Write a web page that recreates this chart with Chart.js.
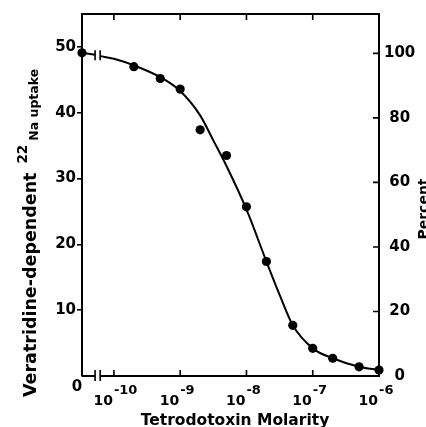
<!DOCTYPE html>
<html>
<head>
<meta charset="utf-8">
<script src="https://cdn.jsdelivr.net/npm/chart.js@4/dist/chart.umd.min.js"></script>
<style>
  html, body { margin: 0; padding: 0; background: #fff; }
  #wrap { width: 426px; height: 427px; position: relative; }
</style>
</head>
<body>
<div id="wrap"><canvas id="chart"></canvas></div>
<script>
// ---- data ----
const molarity = [0, 2e-10, 5e-10, 1e-9, 2e-9, 5e-9, 1e-8, 2e-8, 5e-8, 1e-7, 2e-7, 5e-7, 1e-6];
const uptake = [49.1, 47.0, 45.2, 43.6, 37.4, 33.5, 25.7, 17.4, 7.7, 4.2, 2.7, 1.4, 0.9];

// fitted curve as drawn (null = axis break)
const curveMolarity = [3.3e-11, 5.2e-11, 5.7e-11, 6.2e-11, 1e-10, 2e-10, 5e-10, 1e-9, 2e-9, 3.16e-9, 5e-9, 1e-8, 2e-8, 3.2e-8, 5e-8, 1e-7, 2e-7, 5e-7, 1e-6];
const curveUptake = [49.1, 48.8, null, 48.6, 48.2, 47.2, 45.4, 43.3, 39.6, 35.8, 31.9, 25.3, 17.4, 12.2, 7.7, 4.2, 2.7, 1.4, 0.9];

const leftTicks = [10, 20, 30, 40, 50];
const rightTicks = [0, 20, 40, 60, 80, 100];
const xTickExponents = [-10, -9, -8, -7, -6];
const xMin = 3.3e-11;
const xMax = 1e-6;
const breakMolarity = [5.2e-11, 6.2e-11];
const uptakeMax = 55;
const percentMax = 112.2;

const xTitle = 'Tetrodotoxin Molarity';
const yTitleParts = ['Veratridine-dependent', '22', 'Na uptake'];
const y2Title = 'Percent';

const tickFont = "bold 15px 'DejaVu Sans'";

// ---- frame, breaks, log labels and titles ----
const decorations = {
  id: 'decorations',
  afterDatasetsDraw(chart) {
    const ctx = chart.ctx;
    const x = chart.scales.x, y = chart.scales.y;
    const area = chart.chartArea;
    const b1 = x.getPixelForValue(breakMolarity[0]);
    const b2 = x.getPixelForValue(breakMolarity[1]);
    ctx.save();
    ctx.strokeStyle = '#000';
    ctx.fillStyle = '#000';
    ctx.lineWidth = 2;

    // top border and bottom axis with a break
    ctx.beginPath();
    ctx.moveTo(area.left - 1, area.top);
    ctx.lineTo(area.right + 1, area.top);
    ctx.moveTo(area.left, area.bottom);
    ctx.lineTo(b1, area.bottom);
    ctx.moveTo(b2, area.bottom);
    ctx.lineTo(area.right, area.bottom);
    ctx.stroke();

    // break marks on axis and on curve
    ctx.lineWidth = 1.6;
    const cy = y.getPixelForValue(48.75);
    ctx.beginPath();
    [b1, b2].forEach(bx => {
      ctx.moveTo(bx, area.bottom - 6);
      ctx.lineTo(bx, area.bottom + 5);
      ctx.moveTo(bx, cy - 5);
      ctx.lineTo(bx, cy + 5);
    });
    ctx.stroke();

    // inward ticks: top, bottom, right
    ctx.beginPath();
    xTickExponents.slice(0, -1).forEach(e => {
      const px = x.getPixelForValue(Math.pow(10, e));
      ctx.moveTo(px, area.top);
      ctx.lineTo(px, area.top + 6);
      ctx.moveTo(px, area.bottom);
      ctx.lineTo(px, area.bottom - 6);
    });
    const y2 = chart.scales.y2;
    rightTicks.forEach(v => {
      const py = y2.getPixelForValue(v);
      ctx.moveTo(area.right, py);
      ctx.lineTo(area.right - 6, py);
    });
    ctx.stroke();

    // x tick labels 10^n
    xTickExponents.forEach(e => {
      const px = x.getPixelForValue(Math.pow(10, e));
      ctx.font = "bold 14px 'DejaVu Sans'";
      ctx.textAlign = 'right';
      ctx.textBaseline = 'alphabetic';
      ctx.fillText('10', px - 1, 405);
      ctx.font = "bold 13px 'DejaVu Sans'";
      ctx.textAlign = 'left';
      ctx.fillText('-' + Math.abs(e), px, 394);
    });

    // origin label
    ctx.font = tickFont;
    ctx.textAlign = 'center';
    ctx.fillText('0', area.left - 5, 391);

    // x title
    ctx.font = "bold 15.5px 'DejaVu Sans'";
    ctx.textAlign = 'center';
    ctx.fillText(xTitle, 235, 425);

    // left title, rotated
    ctx.save();
    ctx.translate(36, 397);
    ctx.rotate(-Math.PI / 2);
    ctx.textAlign = 'left';
    ctx.font = "bold 17.5px 'DejaVu Sans'";
    let u = 0;
    ctx.fillText(yTitleParts[0], u, 0);
    u += ctx.measureText(yTitleParts[0]).width + 9;
    ctx.font = "bold 13.5px 'DejaVu Sans'";
    ctx.fillText(yTitleParts[1], u, -9);
    u += ctx.measureText(yTitleParts[1]).width + 4;
    ctx.font = "bold 12.5px 'DejaVu Sans'";
    ctx.fillText(yTitleParts[2], u, 2);
    ctx.restore();

    // right title, rotated and clipped by the edge
    ctx.save();
    ctx.translate(428, 209);
    ctx.rotate(-Math.PI / 2);
    ctx.textAlign = 'center';
    ctx.font = "bold 14px 'DejaVu Sans'";
    ctx.fillText(y2Title, 0, 0);
    ctx.restore();

    ctx.restore();
  }
};

new Chart(document.getElementById('chart'), {
  type: 'line',
  data: {
    datasets: [
      {
        label: 'fit',
        data: curveMolarity.map((m, i) => ({ x: m, y: curveUptake[i] })),
        borderColor: '#000',
        borderWidth: 2,
        pointRadius: 0,
        spanGaps: false,
        cubicInterpolationMode: 'monotone',
        fill: false,
        clip: false
      },
      {
        label: 'uptake',
        data: molarity.map((m, i) => ({ x: m === 0 ? xMin : m, y: uptake[i] })),
        showLine: false,
        pointRadius: 4.6,
        pointBackgroundColor: '#000',
        pointBorderColor: '#000',
        pointBorderWidth: 0,
        clip: false
      }
    ]
  },
  options: {
    responsive: true,
    maintainAspectRatio: false,
    animation: false,
    events: [],
    layout: { padding: { top: 12, left: 0, right: 0, bottom: 0 } },
    plugins: {
      legend: { display: false },
      tooltip: { enabled: false }
    },
    scales: {
      x: {
        type: 'logarithmic',
        min: xMin,
        max: xMax,
        ticks: { display: false },
        grid: { display: false, drawTicks: false },
        border: { display: false },
        afterFit: s => { s.height = 51; }
      },
      y: {
        position: 'left',
        min: 0,
        max: uptakeMax,
        afterBuildTicks: s => { s.ticks = leftTicks.map(v => ({ value: v })); },
        ticks: { color: '#000', font: { family: 'DejaVu Sans', weight: 'bold', size: 15 }, padding: 1 },
        grid: { display: true, drawOnChartArea: false, drawTicks: true, tickLength: 5, color: '#000', lineWidth: 1.6 },
        border: { display: true, color: '#000', width: 2 },
        afterFit: s => { s.width = 82; }
      },
      y2: {
        position: 'right',
        min: 0,
        max: percentMax,
        afterBuildTicks: s => { s.ticks = rightTicks.map(v => ({ value: v })); },
        ticks: { color: '#000', font: { family: 'DejaVu Sans', weight: 'bold', size: 15 }, padding: 5, crossAlign: 'center' },
        grid: { display: false, drawTicks: false },
        border: { display: true, color: '#000', width: 2 },
        afterFit: s => { s.width = 47; }
      }
    }
  },
  plugins: [decorations]
});
</script>
</body>
</html>
